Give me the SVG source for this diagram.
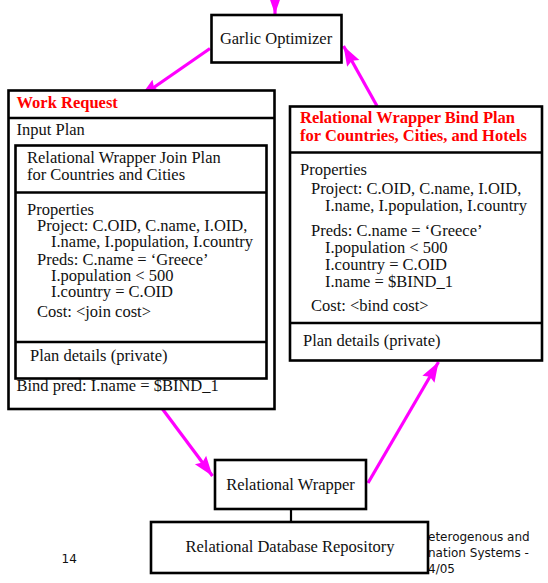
<svg xmlns="http://www.w3.org/2000/svg" width="548" height="583" viewBox="0 0 548 583">
<defs>
<style>
.box{fill:#fff;stroke:#000;stroke-width:2.6}
.div{stroke:#000;stroke-width:2.6;fill:none}
.t{font-family:"Liberation Serif","Times New Roman",serif;font-size:16.5px;fill:#111}
.h{font-family:"Liberation Serif","Times New Roman",serif;font-size:16.5px;font-weight:bold;fill:#ff0000}
.f{font-family:"DejaVu Sans",Verdana,sans-serif;font-size:12px;fill:#111}
.arr{stroke:#ff00ff;stroke-width:3.2;fill:none;marker-end:url(#ah)}
</style>
<marker id="ah" markerUnits="userSpaceOnUse" markerWidth="22" markerHeight="16" refX="20" refY="8" orient="auto">
<path d="M0,1 L20,8 L0,15 L3,8 z" fill="#ff00ff"/>
</marker>
</defs>
<g id="connectors">
<line class="arr" x1="275" y1="-12" x2="275" y2="14"/>
<line class="arr" x1="210" y1="48.5" x2="140" y2="97"/>
<line class="arr" x1="377" y1="106" x2="343.5" y2="46"/>
<line class="arr" x1="162.5" y1="409" x2="212.5" y2="476"/>
<line class="arr" x1="368" y1="483" x2="438.5" y2="362"/>
<line x1="291" y1="509" x2="291" y2="522" stroke="#000" stroke-width="2.2"/>
</g>
<g id="garlic-optimizer">
<rect class="box" x="211.5" y="15" width="130" height="47.5"/>
<text class="t" x="276" y="44" text-anchor="middle">Garlic Optimizer</text>
</g>
<g id="work-request">
<rect class="box" x="8.5" y="90.5" width="266" height="318.5"/>
<line class="div" x1="8.5" y1="118" x2="274.5" y2="118"/>
<text class="h" x="16.5" y="107.5">Work Request</text>
<text class="t" x="16.5" y="134.5">Input Plan</text>
<rect class="box" x="15.5" y="145.5" width="251" height="233"/>
<line class="div" x1="15.5" y1="192.5" x2="266.5" y2="192.5"/>
<line class="div" x1="15.5" y1="342" x2="266.5" y2="342"/>
<text class="t" x="27" y="162.5">Relational Wrapper Join Plan</text>
<text class="t" x="27" y="180">for Countries and Cities</text>
<text class="t" x="27" y="215">Properties</text>
<text class="t" x="37" y="231">Project: C.OID, C.name, I.OID,</text>
<text class="t" x="51" y="247">I.name, I.population, I.country</text>
<text class="t" x="37" y="264.5">Preds: C.name = ‘Greece’</text>
<text class="t" x="51" y="281">I.population &lt; 500</text>
<text class="t" x="51" y="297">I.country = C.OID</text>
<text class="t" x="37" y="317">Cost: &lt;join cost&gt;</text>
<text class="t" x="30" y="361">Plan details (private)</text>
<text class="t" x="16.5" y="391">Bind pred: I.name = $BIND_1</text>
</g>
<g id="bind-plan">
<rect class="box" x="290" y="106.5" width="252" height="254"/>
<line class="div" x1="290" y1="152.5" x2="542" y2="152.5"/>
<line class="div" x1="290" y1="323" x2="542" y2="323"/>
<text class="h" x="300" y="123">Relational Wrapper Bind Plan</text>
<text class="h" x="300" y="141">for Countries, Cities, and Hotels</text>
<text class="t" x="300" y="174.5">Properties</text>
<text class="t" x="311" y="194">Project: C.OID, C.name, I.OID,</text>
<text class="t" x="325" y="211">I.name, I.population, I.country</text>
<text class="t" x="311" y="236">Preds: C.name = ‘Greece’</text>
<text class="t" x="325" y="252.5">I.population &lt; 500</text>
<text class="t" x="325" y="270">I.country = C.OID</text>
<text class="t" x="325" y="287">I.name = $BIND_1</text>
<text class="t" x="311" y="310.5">Cost: &lt;bind cost&gt;</text>
<text class="t" x="303" y="345.5">Plan details (private)</text>
</g>
<g id="footer">
<text class="f" x="61.5" y="563">14</text>
<text class="f" x="428" y="541">eterogenous and</text>
<text class="f" x="428" y="557">nation Systems -</text>
<text class="f" x="428" y="573">4/05</text>
</g>
<g id="relational-wrapper">
<rect class="box" x="215" y="460" width="151" height="49"/>
<text class="t" x="290.5" y="489.5" text-anchor="middle">Relational Wrapper</text>
</g>
<g id="relational-database-repository">
<rect class="box" x="151" y="522" width="277" height="51"/>
<text class="t" x="290" y="552" text-anchor="middle">Relational Database Repository</text>
</g>
</svg>
